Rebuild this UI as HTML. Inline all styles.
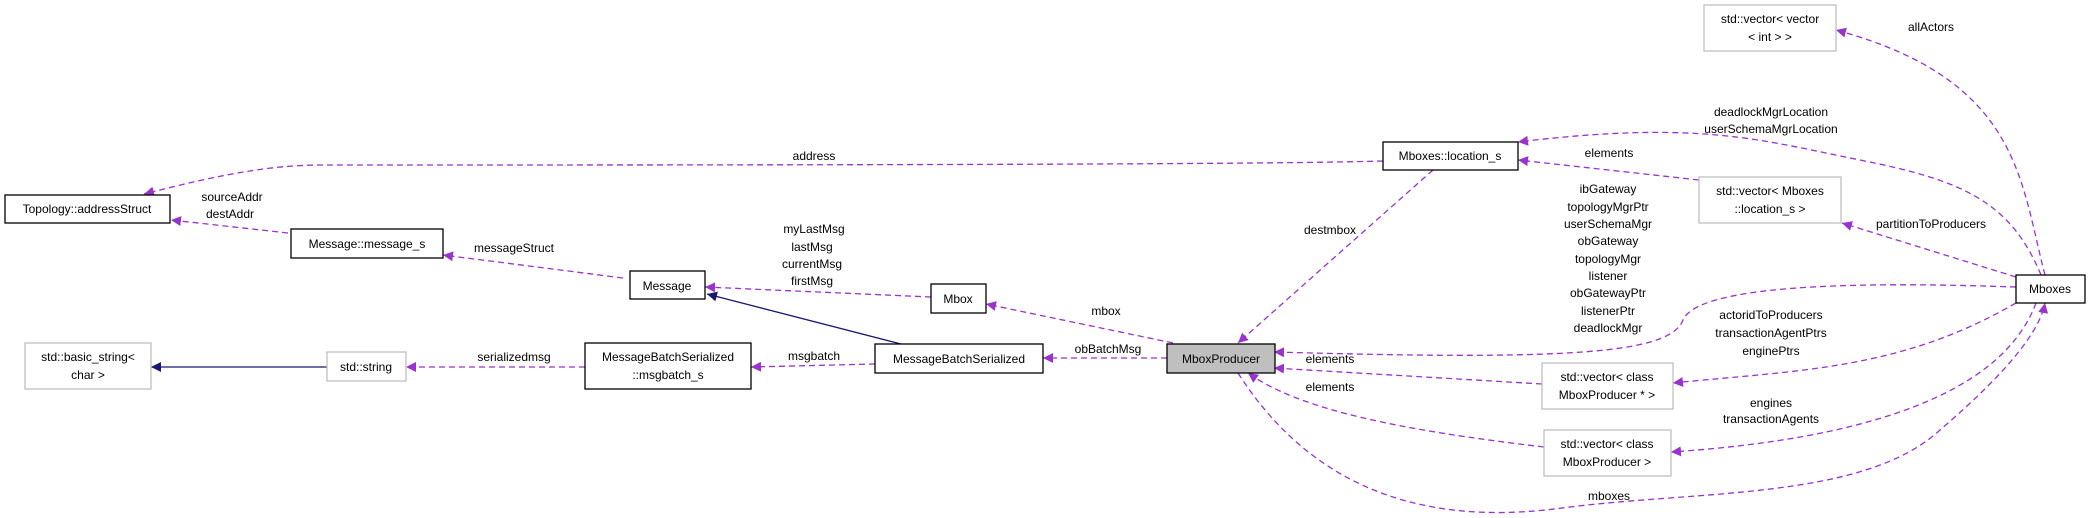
<!DOCTYPE html>
<html><head><meta charset="utf-8"><style>
html,body{margin:0;padding:0;background:#fff;}
svg{display:block;}
text{font-family:"Liberation Sans",Arial,sans-serif;font-size:12px;fill:#000;}
</style></head><body>
<svg width="2093" height="518" viewBox="0 0 2093 518" xmlns="http://www.w3.org/2000/svg">
<defs>
<marker id="p" viewBox="0 0 10 10" refX="10" refY="5" markerWidth="10" markerHeight="10" markerUnits="userSpaceOnUse" orient="auto"><path d="M0,0 L10,5 L0,10 z" fill="#9a32cd"/></marker>
<marker id="n" viewBox="0 0 10 10" refX="10" refY="5" markerWidth="10" markerHeight="10" markerUnits="userSpaceOnUse" orient="auto"><path d="M0,0 L10,5 L0,10 z" fill="#191970"/></marker>
</defs>
<g fill="none" stroke="#9a32cd" stroke-width="1.3" stroke-dasharray="6,4" marker-end="url(#p)">
<path d="M1383,161 C1250,165 700,165 321,165 C260,165 200,180 144,194"/>
<path d="M288,233 L171,220"/>
<path d="M623,278 L443,255"/>
<path d="M931,297 L705,287"/>
<path d="M875,364 L751,367"/>
<path d="M585,367 L406,367"/>
<path d="M1173,343 L986,304"/>
<path d="M1167,358 L1043,358"/>
<path d="M1433,170 L1238,343"/>
<path d="M2041,275 C2010,200 1960,180 1860,160 C1760,140 1700,120 1518,142"/>
<path d="M1699,180 L1518,160"/>
<path d="M2045,275 C2020,180 2020,80 1836,30"/>
<path d="M2016,277 L1842,223"/>
<path d="M2016,287 C1900,283 1700,280 1683,320 C1670,355 1560,360 1274,352"/>
<path d="M1542,384 L1274,368"/>
<path d="M1544,447 C1400,430 1300,410 1248,373"/>
<path d="M2016,303 C1900,370 1800,370 1673,383"/>
<path d="M2036,303 C2000,400 1850,440 1671,452"/>
<path d="M1238,373 C1300,470 1400,530 1562,508 C1700,490 1864,500 1940,430 C2010,370 2040,330 2045,303"/>
</g>
<g fill="none" stroke="#191970" stroke-width="1.3" marker-end="url(#n)">
<path d="M901,344 L707,294"/>
<path d="M327,367 L151,367"/>
</g>
<g stroke="#000" stroke-width="1.3" fill="#fff">
<rect x="5" y="195" width="165" height="28"/>
<rect x="291" y="229" width="152" height="29"/>
<rect x="630" y="271" width="75" height="28"/>
<rect x="931" y="284" width="55" height="29"/>
<rect x="875" y="344" width="168" height="29"/>
<rect x="585" y="343" width="166" height="46"/>
<rect x="1383" y="142" width="135" height="28"/>
<rect x="2016" y="275" width="69" height="28"/>
<rect x="1167" y="344" width="108" height="29" fill="#bfbfbf"/>
</g>
<g stroke="#bfbfbf" stroke-width="1.3" fill="#fff">
<rect x="327" y="352" width="79" height="29"/>
<rect x="25" y="343" width="126" height="46"/>
<rect x="1704" y="5" width="132" height="46"/>
<rect x="1699" y="177" width="142" height="46"/>
<rect x="1542" y="363" width="131" height="46"/>
<rect x="1544" y="430" width="127" height="46"/>
</g>
<g text-anchor="middle">
<text x="87" y="213">Topology::addressStruct</text>
<text x="367" y="248">Message::message_s</text>
<text x="667" y="290">Message</text>
<text x="958" y="303">Mbox</text>
<text x="959" y="363">MessageBatchSerialized</text>
<text x="668" y="361">MessageBatchSerialized</text>
<text x="668" y="379">::msgbatch_s</text>
<text x="366" y="371">std::string</text>
<text x="88" y="361">std::basic_string&lt;</text>
<text x="88" y="379">char &gt;</text>
<text x="1450" y="160">Mboxes::location_s</text>
<text x="2050" y="293">Mboxes</text>
<text x="1221" y="363">MboxProducer</text>
<text x="1770" y="23">std::vector&lt; vector</text>
<text x="1770" y="41">&lt; int &gt; &gt;</text>
<text x="1770" y="195">std::vector&lt; Mboxes</text>
<text x="1770" y="213">::location_s &gt;</text>
<text x="1607" y="381">std::vector&lt; class</text>
<text x="1607" y="399">MboxProducer * &gt;</text>
<text x="1607" y="448">std::vector&lt; class</text>
<text x="1607" y="466">MboxProducer &gt;</text>

<text x="814" y="160">address</text>
<text x="232" y="201">sourceAddr</text>
<text x="230" y="218">destAddr</text>
<text x="514" y="252">messageStruct</text>
<text x="814" y="233">myLastMsg</text>
<text x="812" y="251">lastMsg</text>
<text x="812" y="268">currentMsg</text>
<text x="812" y="285">firstMsg</text>
<text x="514" y="361">serializedmsg</text>
<text x="814" y="360">msgbatch</text>
<text x="1931" y="31">allActors</text>
<text x="1771" y="116">deadlockMgrLocation</text>
<text x="1771" y="133">userSchemaMgrLocation</text>
<text x="1609" y="157">elements</text>
<text x="1608" y="193">ibGateway</text>
<text x="1608" y="211">topologyMgrPtr</text>
<text x="1608" y="228">userSchemaMgr</text>
<text x="1608" y="245">obGateway</text>
<text x="1608" y="263">topologyMgr</text>
<text x="1608" y="280">listener</text>
<text x="1608" y="297">obGatewayPtr</text>
<text x="1608" y="315">listenerPtr</text>
<text x="1608" y="332">deadlockMgr</text>
<text x="1330" y="234">destmbox</text>
<text x="1931" y="228">partitionToProducers</text>
<text x="1106" y="315">mbox</text>
<text x="1108" y="353">obBatchMsg</text>
<text x="1330" y="363">elements</text>
<text x="1330" y="391">elements</text>
<text x="1771" y="319">actoridToProducers</text>
<text x="1771" y="337">transactionAgentPtrs</text>
<text x="1771" y="355">enginePtrs</text>
<text x="1771" y="407">engines</text>
<text x="1771" y="423">transactionAgents</text>
<text x="1609" y="500">mboxes</text>
</g>
</svg>
</body></html>
